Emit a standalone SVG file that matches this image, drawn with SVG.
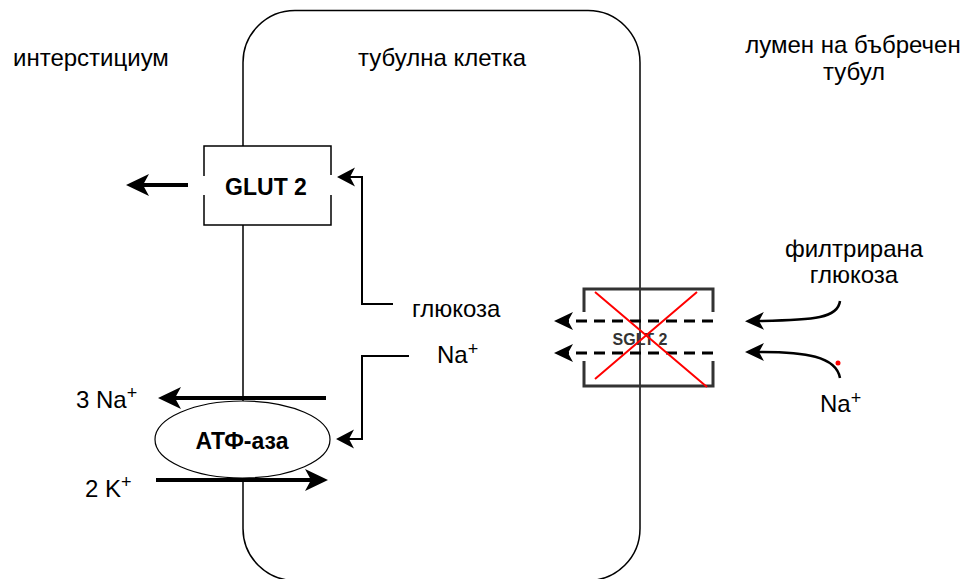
<svg xmlns="http://www.w3.org/2000/svg" width="964" height="579" viewBox="0 0 964 579">
  <style>
    text { font-family: "Liberation Sans", Arial, Helvetica, sans-serif; fill: #000; }
    .lbl { font-size: 24px; }
    .sup { font-size: 18px; }
    .bold { font-weight: bold; }
    .outline { fill: none; stroke: #000; stroke-width: 1.5; }
    .thick { fill: none; stroke: #000; stroke-width: 4; }
    .thin { fill: none; stroke: #000; stroke-width: 2; }
    .dash { fill: none; stroke: #000; stroke-width: 3; stroke-dasharray: 11 7; }
    .curve { fill: none; stroke: #000; stroke-width: 2.5; }
    .bracket { fill: none; stroke: #333; stroke-width: 3; }
    .cross { fill: none; stroke: #ff0000; stroke-width: 2; }
  </style>
  <defs>
    <!-- classic notched arrowheads; the line ends at the notch -->
    <marker id="headBig" markerUnits="userSpaceOnUse" markerWidth="26" markerHeight="26" viewBox="0 -13 26 26" refX="6" refY="0" orient="auto">
      <path d="M0,-11 L23,0 L0,11 L6,0 Z" fill="#000"/>
    </marker>
    <marker id="headMid" markerUnits="userSpaceOnUse" markerWidth="22" markerHeight="22" viewBox="0 -11 22 22" refX="5" refY="0" orient="auto">
      <path d="M0,-9 L19,0 L0,9 L5,0 Z" fill="#000"/>
    </marker>
    <marker id="headSmall" markerUnits="userSpaceOnUse" markerWidth="22" markerHeight="22" viewBox="0 -11 22 22" refX="5" refY="0" orient="auto">
      <path d="M0,-9.5 L18,0 L0,9.5 L5,0 Z" fill="#000"/>
    </marker>
  </defs>

  <!-- region labels -->
  <text class="lbl" x="13" y="66">интерстициум</text>
  <text class="lbl" x="442" y="66" text-anchor="middle">тубулна клетка</text>
  <text class="lbl" x="853" y="53" text-anchor="middle">лумен на бъбречен</text>
  <text class="lbl" x="854" y="80" text-anchor="middle">тубул</text>

  <!-- tubular cell -->
  <g id="cell">
    <rect class="outline" x="243" y="10.5" width="397" height="570" rx="52" ry="52"/>
  </g>

  <!-- GLUT 2 transporter on the basolateral membrane -->
  <g id="glut2">
    <rect x="204" y="146" width="127" height="79" fill="#fff"/>
    <path class="outline" d="M204,176 V146 H331 V175 M331,195 V225 H204 V195"/>
    <text class="bold" x="266" y="195" font-size="23" text-anchor="middle">GLUT 2</text>
  </g>

  <!-- Na/K ATPase -->
  <g id="atpase">
    <ellipse cx="242.5" cy="439.5" rx="87.5" ry="38.5" fill="#fff" stroke="#000" stroke-width="1.2"/>
    <text class="bold" x="242" y="449" font-size="23" text-anchor="middle">АТФ-аза</text>
  </g>

  <!-- SGLT 2 transporter on the apical membrane (blocked) -->
  <g id="sglt2">
    <path class="bracket" d="M584,312 V289 H713 V312"/>
    <path class="bracket" d="M584,361 V386 H713 V361"/>
    <text class="bold" x="640" y="345" font-size="16" text-anchor="middle" style="fill:#333">SGLT 2</text>
  </g>

  <!-- intracellular labels -->
  <g id="glucose-in">
    <text class="lbl" x="412" y="317">глюкоза</text>
  </g>
  <g id="na-in">
    <text class="lbl" x="437" y="363">Na<tspan class="sup" dy="-8">+</tspan></text>
  </g>
  <g id="na-out">
    <text class="lbl" x="76" y="408">3 Na<tspan class="sup" dy="-9">+</tspan></text>
  </g>
  <g id="k-in">
    <text class="lbl" x="85" y="497">2 K<tspan class="sup" dy="-9">+</tspan></text>
  </g>

  <!-- luminal labels -->
  <g id="filtered-glucose">
    <text class="lbl" x="854" y="257" text-anchor="middle">филтрирана</text>
    <text class="lbl" x="854" y="283" text-anchor="middle">глюкоза</text>
  </g>
  <g id="na-lumen">
    <text class="lbl" x="820" y="412">Na<tspan class="sup" dy="-8">+</tspan></text>
  </g>

  <!-- connectors -->
  <g id="connectors">
    <!-- glucose leaves through GLUT 2 -->
    <path class="thick" d="M188,185 H143" marker-end="url(#headBig)"/>
    <!-- glucose to GLUT 2 -->
    <path class="thin" d="M393,304 H362 V177 H350" marker-end="url(#headSmall)"/>
    <!-- Na to the ATPase -->
    <path class="thin" d="M409,356 H362 V439 H349" marker-end="url(#headSmall)"/>
    <!-- pump fluxes -->
    <path class="thick" d="M326,398 H175" marker-end="url(#headBig)"/>
    <path class="thick" d="M156,480 H311" marker-end="url(#headBig)"/>
    <!-- SGLT 2 cotransport (dashed) -->
    <path class="dash" d="M713,321 H568" marker-end="url(#headMid)"/>
    <path class="dash" d="M713,353 H568" marker-end="url(#headMid)"/>
    <!-- luminal inflow -->
    <path class="curve" d="M840,301 C838,318 815,320 759,321" marker-end="url(#headMid)"/>
    <path class="curve" d="M840,378 C836,356 805,352 759,352" marker-end="url(#headMid)"/>
  </g>

  <!-- inhibition mark -->
  <g id="block">
    <path class="cross" d="M595,292 L707,387 M697,292 L595,379"/>
    <circle cx="838" cy="363" r="2.5" fill="#ff0000"/>
  </g>
</svg>
